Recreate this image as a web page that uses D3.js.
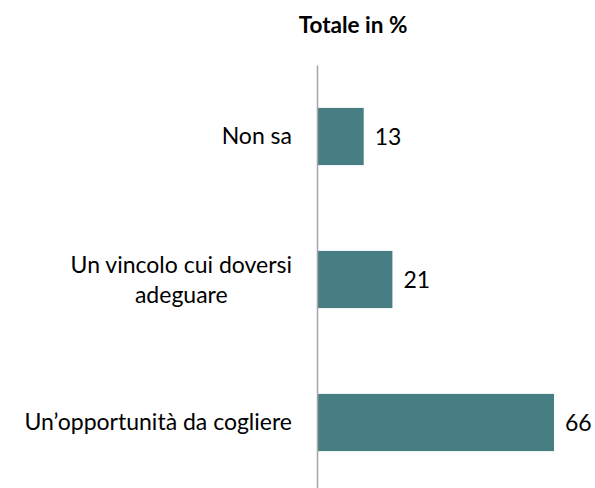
<!DOCTYPE html>
<html>
<head>
<meta charset="utf-8">
<script src="https://cdn.jsdelivr.net/npm/d3@7"></script>
<style>
  body { margin: 0; background: #fff; }
  svg { display: block; font-family: Lato, "Open Sans", sans-serif; }
</style>
</head>
<body>
<div id="chart"></div>
<script>
// data
var categories = ["Non sa", "Un vincolo cui doversi adeguare", "Un\u2019opportunit\u00e0 da cogliere"];
var categoryLines = [["Non sa"], ["Un vincolo cui doversi", "adeguare"], ["Un\u2019opportunit\u00e0 da cogliere"]];
var values = [13, 21, 66];
var chartTitle = "Totale in %";

var width = 595, height = 488;
var margin = {top: 65, right: 41, bottom: -6, left: 317};
var fontSize = 23;

var svg = d3.select("#chart").append("svg")
    .attr("width", width)
    .attr("height", height);

var x = d3.scaleLinear()
    .domain([0, 66])
    .range([margin.left, width - margin.right]);

var y = d3.scaleBand()
    .domain(d3.range(categories.length))
    .range([margin.top, height - margin.bottom])
    .paddingInner(0.6)
    .paddingOuter(0.3);

// title
svg.append("text")
    .attr("x", 353)
    .attr("y", 33)
    .attr("text-anchor", "middle")
    .attr("font-weight", "bold")
    .attr("font-size", 22.5)
    .attr("fill", "#000")
    .text(chartTitle);

// bars
svg.append("g")
    .attr("fill", "#467e83")
  .selectAll("rect")
  .data(values)
  .join("rect")
    .attr("x", x(0))
    .attr("y", (d, i) => y(i))
    .attr("width", d => x(d) - x(0))
    .attr("height", y.bandwidth());

// value labels
svg.append("g")
    .attr("font-size", fontSize)
    .attr("fill", "#000")
  .selectAll("text")
  .data(values)
  .join("text")
    .attr("x", d => x(d) + 11)
    .attr("y", (d, i) => y(i) + y.bandwidth() / 2)
    .attr("dy", "0.36em")
    .text(d => d);

// category axis
var yAxis = svg.append("g")
    .attr("transform", `translate(${x(0)},0)`)
    .call(d3.axisLeft(y).tickSize(0).tickPadding(25).tickFormat(i => categories[i]));

yAxis.select(".domain")
    .attr("stroke", "#a6a6a6")
    .attr("stroke-width", 1.5);

yAxis.selectAll(".tick text")
    .attr("font-family", "Lato, 'Open Sans', sans-serif")
    .attr("font-size", fontSize)
    .attr("fill", "#000")
    .each(function(i) {
      var t = d3.select(this);
      var lines = categoryLines[i];
      if (lines.length < 2) return;
      t.text(null).attr("dy", null);
      var spans = lines.map((s, k) => t.append("tspan").text(s));
      var w = d3.max(spans, sp => sp.node().getComputedTextLength());
      var lh = 30;
      var start = -((lines.length - 1) * lh) / 2;
      spans.forEach((sp, k) => {
        sp.attr("x", -25 - w / 2)
          .attr("text-anchor", "middle")
          .attr("y", start + k * lh)
          .attr("dy", "0.36em");
      });
    });
</script>
</body>
</html>
